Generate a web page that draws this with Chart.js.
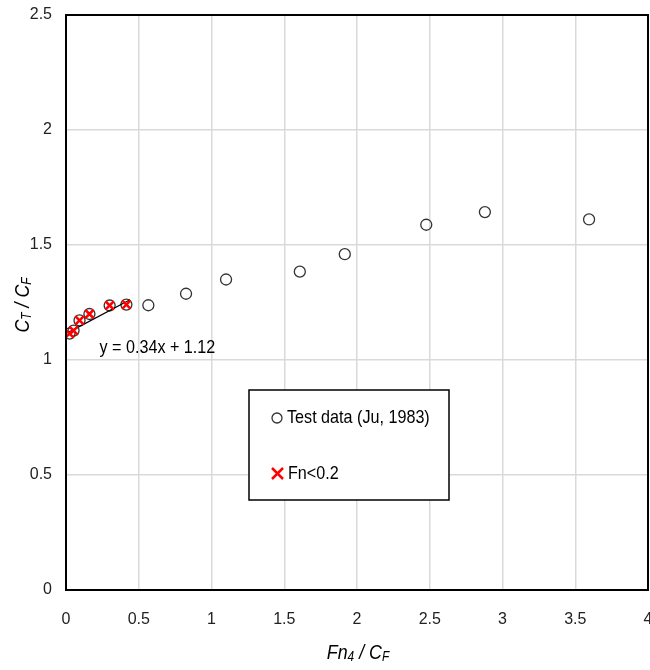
<!DOCTYPE html>
<html lang="en">
<head>
  <meta charset="UTF-8" />
  <title>CT/CF vs Fn4/CF</title>
  <script src="https://cdn.jsdelivr.net/npm/chart.js"></script>
  <style>
    body {
      margin: 0;
      padding: 0;
      background: #fff;
    }
    #chart {
      display: block;
    }
  </style>
</head>
<body>
  <canvas id="chart" width="650" height="670"></canvas>

  <script>
    // test data (Ju, 1983)
    const testX = [0.024, 0.052, 0.093, 0.161, 0.300, 0.415, 0.566, 0.825, 1.10, 1.607, 1.916, 2.476, 2.879, 3.595];
    const testY = [1.115, 1.128, 1.172, 1.200, 1.237, 1.241, 1.238, 1.288, 1.350, 1.384, 1.460, 1.588, 1.643, 1.611];

    // points with Fn < 0.2
    const lowX = [0.024, 0.052, 0.093, 0.161, 0.300, 0.415];
    const lowY = [1.115, 1.128, 1.172, 1.200, 1.237, 1.241];

    // linear trend line ends
    const trendX = [0.01, 0.44];
    const trendY = [1.118, 1.262];
    const trendLabel = 'y = 0.34x + 1.12';

    const xTicks = [0, 0.5, 1, 1.5, 2, 2.5, 3, 3.5, 4];
    const yTicks = [0, 0.5, 1, 1.5, 2, 2.5];

    const FONT = "'Liberation Sans', sans-serif";

    function toPoints(xs, ys) {
      return xs.map((x, i) => ({ x: x, y: ys[i] }));
    }

    // narrow-ish text: squeeze horizontally like Calibri
    const SQ = 0.85;

    // draws text with subscript parts, centred on (0,0) of current transform
    function drawParts(ctx, parts, size) {
      const subSize = Math.round(size * 0.65);
      let total = 0;
      parts.forEach(p => {
        ctx.font = 'italic ' + (p.sub ? subSize : size) + 'px ' + FONT;
        p.w = ctx.measureText(p.t).width;
        total += p.w;
      });
      ctx.scale(SQ, 1);
      let x = -total / 2;
      ctx.textBaseline = 'alphabetic';
      ctx.textAlign = 'left';
      parts.forEach(p => {
        ctx.font = 'italic ' + (p.sub ? subSize : size) + 'px ' + FONT;
        ctx.fillText(p.t, x, p.sub ? size * 0.45 : size * 0.35);
        x += p.w;
      });
    }

    function squeezed(ctx, text, x, y) {
      ctx.save();
      ctx.translate(x, y);
      ctx.scale(SQ, 1);
      ctx.fillText(text, 0, 0);
      ctx.restore();
    }

    const extras = {
      id: 'extras',
      afterDraw(chart) {
        const ctx = chart.ctx;
        const a = chart.chartArea;
        const xs = chart.scales.x;
        const ys = chart.scales.y;

        // plot border
        ctx.save();
        ctx.strokeStyle = '#000';
        ctx.lineWidth = 2;
        ctx.strokeRect(a.left, a.top, a.right - a.left, a.bottom - a.top);
        ctx.restore();

        // trend equation
        ctx.save();
        ctx.fillStyle = '#000';
        ctx.font = '19px ' + FONT;
        ctx.textBaseline = 'middle';
        ctx.textAlign = 'left';
        squeezed(ctx, trendLabel, xs.getPixelForValue(0.23), ys.getPixelForValue(1.052));
        ctx.restore();

        // legend box
        ctx.save();
        const bx = 249, by = 390, bw = 200, bh = 110;
        ctx.fillStyle = '#fff';
        ctx.fillRect(bx, by, bw, bh);
        ctx.strokeStyle = '#000';
        ctx.lineWidth = 1.5;
        ctx.strokeRect(bx, by, bw, bh);

        ctx.font = '19px ' + FONT;
        ctx.fillStyle = '#000';
        ctx.textBaseline = 'middle';
        ctx.textAlign = 'left';

        ctx.beginPath();
        ctx.strokeStyle = '#333';
        ctx.lineWidth = 1.3;
        ctx.arc(277, 418, 5, 0, Math.PI * 2);
        ctx.stroke();
        squeezed(ctx, chart.data.datasets[0].label, 287, 418);

        ctx.beginPath();
        ctx.strokeStyle = '#ff0000';
        ctx.lineWidth = 2.5;
        ctx.moveTo(272, 468); ctx.lineTo(283, 479);
        ctx.moveTo(283, 468); ctx.lineTo(272, 479);
        ctx.stroke();
        squeezed(ctx, chart.data.datasets[1].label, 288, 474);
        ctx.restore();

        // axis titles
        ctx.save();
        ctx.fillStyle = '#000';
        ctx.translate(358, 652);
        drawParts(ctx, [{ t: 'Fn' }, { t: '4', sub: true }, { t: ' / C' }, { t: 'F', sub: true }], 21);
        ctx.restore();

        ctx.save();
        ctx.fillStyle = '#000';
        ctx.translate(22, 305);
        ctx.rotate(-Math.PI / 2);
        drawParts(ctx, [{ t: 'C' }, { t: 'T', sub: true }, { t: ' / C' }, { t: 'F', sub: true }], 21);
        ctx.restore();
      }
    };

    const chart = new Chart(document.getElementById('chart').getContext('2d'), {
      type: 'scatter',
      data: {
        datasets: [
          {
            label: 'Test data (Ju, 1983)',
            data: toPoints(testX, testY),
            pointStyle: 'circle',
            radius: 5.5,
            borderColor: '#333',
            backgroundColor: 'rgba(0,0,0,0)',
            borderWidth: 1.3,
            order: 2
          },
          {
            label: 'Fn<0.2',
            data: toPoints(lowX, lowY),
            pointStyle: 'crossRot',
            radius: 6,
            borderColor: '#ff0000',
            backgroundColor: '#ff0000',
            borderWidth: 2.5,
            order: 0
          },
          {
            label: 'trend',
            data: toPoints(trendX, trendY),
            showLine: true,
            radius: 0,
            borderColor: '#000',
            borderWidth: 1.2,
            order: 1
          }
        ]
      },
      options: {
        responsive: false,
        animation: false,
        layout: { autoPadding: false, padding: { top: 15, right: 2, left: 0, bottom: 0 } },
        plugins: {
          legend: { display: false },
          tooltip: { enabled: false }
        },
        scales: {
          x: {
            type: 'linear',
            min: 0,
            max: 4,
            afterBuildTicks: s => { s.ticks = xTicks.map(v => ({ value: v })); },
            afterFit: s => { s.height = 80; s.paddingLeft = 0; s.paddingRight = 0; },
            grid: { color: '#d9d9d9', lineWidth: 1.5, drawTicks: false },
            border: { display: false },
            ticks: {
              padding: 20,
              color: '#222',
              font: { family: FONT, size: 16 },
              maxRotation: 0,
              callback: v => String(v)
            }
          },
          y: {
            type: 'linear',
            min: 0,
            max: 2.5,
            afterBuildTicks: s => { s.ticks = yTicks.map(v => ({ value: v })); },
            afterFit: s => { s.width = 66; s.paddingTop = 0; s.paddingBottom = 0; },
            grid: { color: '#d9d9d9', lineWidth: 1.5, drawTicks: false },
            border: { display: false },
            ticks: {
              padding: 14,
              color: '#222',
              font: { family: FONT, size: 16 },
              callback: v => String(v)
            }
          }
        }
      },
      plugins: [extras]
    });
  </script>
</body>
</html>
